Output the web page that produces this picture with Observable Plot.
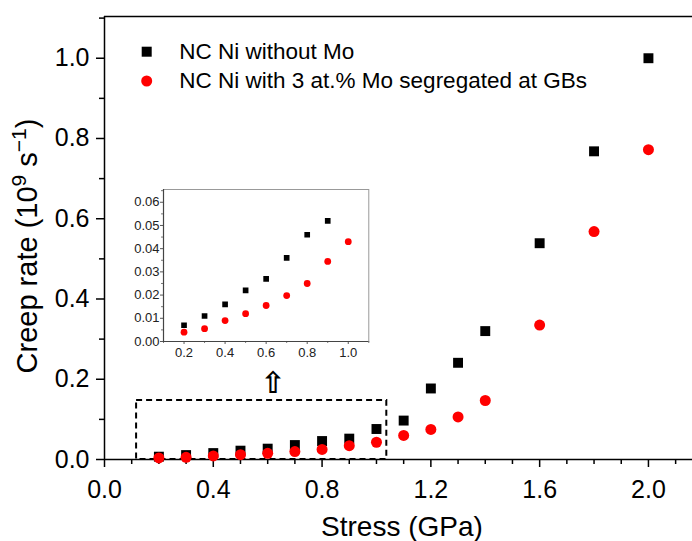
<!DOCTYPE html>
<html><head><meta charset="utf-8">
<script src="https://cdn.jsdelivr.net/npm/d3@7"></script>
<script src="https://cdn.jsdelivr.net/npm/@observablehq/plot@0.6"></script>
<style>
body{margin:0;background:#fff;}
#wrap{position:relative;width:692px;height:541px;overflow:hidden;font-family:"Liberation Sans",Arial,sans-serif;}
#wrap svg{position:absolute;}
</style></head><body><div id="wrap"></div>
<script>
// ---- data ----
const stress   = [0.2,0.3,0.4,0.5,0.6,0.7,0.8,0.9,1.0,1.1,1.2,1.3,1.4,1.6,1.8,2.0];
const rateNoMo = [0.007,0.011,0.016,0.022,0.027,0.036,0.046,0.052,0.076,0.097,0.177,0.241,0.320,0.539,0.768,1.0];
const rateMo   = [0.004,0.0055,0.009,0.012,0.0155,0.0198,0.025,0.0345,0.043,0.060,0.075,0.106,0.147,0.335,0.568,0.772];
const seriesNames = ["NC Ni without Mo","NC Ni with 3 at.% Mo segregated at GBs"];
const seriesColors = ["#000000","#ff0000"];

const xDomain = [0, 2.162];
const yDomain = [0, 1.104];
const xMajor = [0.0,0.4,0.8,1.2,1.6,2.0];
const xMinor = [0.1,0.2,0.3,0.5,0.6,0.7,0.9,1.0,1.1,1.3,1.4,1.5,1.7,1.8,1.9,2.1];
const yMajor = [0.0,0.2,0.4,0.6,0.8,1.0];
const yMinor = [0.1,0.3,0.5,0.7,0.9,1.1];

const insetXDomain = [0.1, 1.1];
const insetYDomain = [0, 0.0655];
const insetXMajor = [0.2,0.4,0.6,0.8,1.0];
const insetXMinor = [0.1,0.3,0.5,0.7,0.9,1.1];
const insetYMajor = [0.00,0.01,0.02,0.03,0.04,0.05,0.06];
const insetYMinor = [0.005,0.015,0.025,0.035,0.045,0.055,0.065];
const insetMaxStress = 1.0;

// zoom box and arrow annotations (data units)
const zoomBox = [{x1:0.118, x2:1.038, y1:0, y2:0.147}];
const arrowMark = [{x:0.62, y:0.19, label:"\u21E7"}];

const table = stress.map((s,i)=>({s, a:rateNoMo[i], b:rateMo[i]}));
const insetTable = table.filter(d => d.s <= insetMaxStress);
const FONT = "Liberation Sans, Arial, sans-serif";

const main = Plot.plot({
  width:692, height:541,
  marginLeft:104, marginRight:0, marginTop:16, marginBottom:82,
  x:{domain:xDomain}, y:{domain:yDomain},
  style:{fontFamily:FONT, background:"transparent", color:"#000"},
  marks:[
    Plot.axisX(xMajor, {tickSize:8, tickPadding:13, fontSize:25, tickFormat:d3.format(".1f"), label:null, strokeWidth:1.5}),
    Plot.axisX(xMinor, {tickSize:5, tickFormat:()=>"", label:null, strokeWidth:1.5}),
    Plot.axisY(yMajor, {tickSize:8, tickPadding:7, fontSize:25, tickFormat:d3.format(".1f"), label:null, strokeWidth:1.5}),
    Plot.axisY(yMinor, {tickSize:5, tickFormat:()=>"", label:null, strokeWidth:1.5}),
    Plot.ruleX([xDomain[0]], {stroke:"#000", strokeWidth:1.5}),
    Plot.ruleY([yDomain[0]], {stroke:"#000", strokeWidth:1.5}),
    Plot.ruleY([yDomain[1]], {stroke:"#000", strokeWidth:1.5}),
    Plot.rect(zoomBox, {x1:"x1", x2:"x2", y1:"y1", y2:"y2", fill:"none", stroke:"#000", strokeWidth:2, strokeDasharray:"6,4"}),
    Plot.text(arrowMark, {x:"x", y:"y", text:"label", fontSize:30, fontWeight:"bold", fontFamily:"DejaVu Sans", fill:"#000"}),
    Plot.dot(table, {x:"s", y:"a", symbol:"square", r:5.6, fill:seriesColors[0], stroke:"none"}),
    Plot.dot(table, {x:"s", y:"b", symbol:"circle", r:5.5, fill:seriesColors[1], stroke:"none"})
  ]
});
main.style.left = "0px"; main.style.top = "0px";
document.getElementById("wrap").appendChild(main);

const svg = d3.select(main);
// x title
svg.append("text").attr("x",402).attr("y",536).attr("text-anchor","middle")
  .attr("font-family",FONT).attr("font-size",28).attr("fill","#000").text("Stress (GPa)");
// y title
const yt = svg.append("text").attr("transform","translate(37,246) rotate(-90)").attr("text-anchor","middle")
  .attr("font-family",FONT).attr("font-size",29).attr("fill","#000");
yt.append("tspan").text("Creep rate (10");
yt.append("tspan").attr("dy",-11).attr("font-size",21).text("9");
yt.append("tspan").attr("dy",11).text(" s");
yt.append("tspan").attr("dy",-11).attr("font-size",21).text("\u22121");
yt.append("tspan").attr("dy",11).text(")");

// legend
const lg = svg.append("g").attr("text-anchor","start");
lg.append("rect").attr("x",146.7-5).attr("y",51.7-5).attr("width",10).attr("height",10).attr("fill",seriesColors[0]);
lg.append("circle").attr("cx",146.7).attr("cy",81).attr("r",5.5).attr("fill",seriesColors[1]);
lg.append("text").attr("x",179.3).attr("y",59).attr("text-anchor","start").attr("font-family",FONT).attr("font-size",22.5).attr("fill","#000").text(seriesNames[0]);
lg.append("text").attr("x",179.3).attr("y",88.3).attr("text-anchor","start").attr("font-family",FONT).attr("font-size",22.5).attr("fill","#000").text(seriesNames[1]);

// inset
const iml = 50, imt = 6, imr = 8, imb = 24;
const inset = Plot.plot({
  width: iml + 205.3 + imr, height: imt + 152 + imb,
  marginLeft:iml, marginRight:imr, marginTop:imt, marginBottom:imb,
  x:{domain:insetXDomain}, y:{domain:insetYDomain},
  style:{fontFamily:FONT, background:"transparent", color:"#222"},
  marks:[
    Plot.frame({stroke:"#999", strokeWidth:1}),
    Plot.axisX(insetXMajor, {tickSize:3, tickPadding:3, fontSize:13, tickFormat:d3.format(".1f"), label:null, stroke:"#555"}),
    Plot.axisX(insetXMinor, {tickSize:2, tickFormat:()=>"", label:null, stroke:"#777"}),
    Plot.axisY(insetYMajor, {tickSize:3, tickPadding:1, fontSize:13, tickFormat:d3.format(".2f"), label:null, stroke:"#555"}),
    Plot.axisY(insetYMinor, {tickSize:2, tickFormat:()=>"", label:null, stroke:"#777"}),
    Plot.ruleX([insetXDomain[0]], {stroke:"#444", strokeWidth:1.2}),
    Plot.ruleY([insetYDomain[0]], {stroke:"#444", strokeWidth:1.2}),
    Plot.dot(insetTable, {x:"s", y:"a", symbol:"square", r:3.2, fill:seriesColors[0], stroke:"none", clip:true}),
    Plot.dot(insetTable, {x:"s", y:"b", symbol:"circle", r:3.4, fill:seriesColors[1], stroke:"none", clip:true})
  ]
});
inset.style.left = (162.7 - iml) + "px";
inset.style.top = (189.3 - imt) + "px";
document.getElementById("wrap").appendChild(inset);
</script></body></html>
